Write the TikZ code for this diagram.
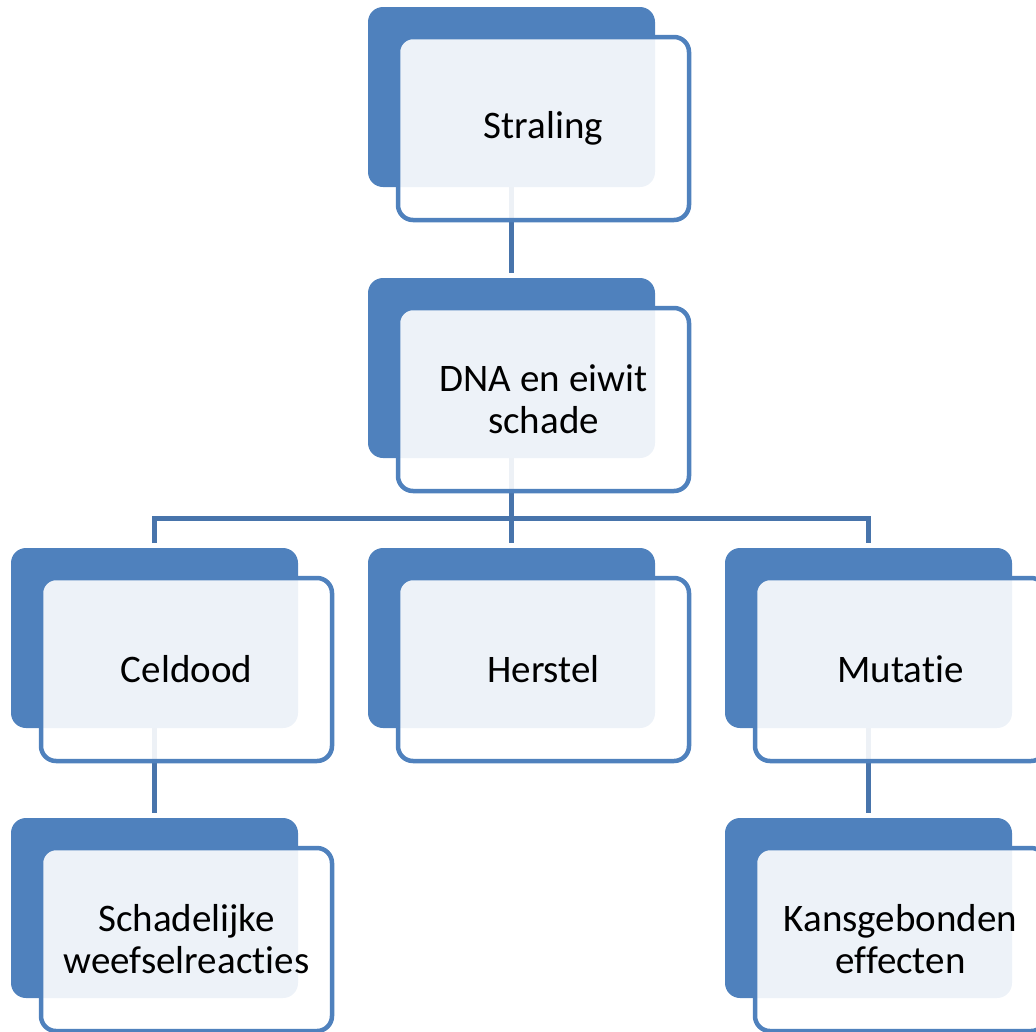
\documentclass[tikz,border=0pt]{standalone}
\usepackage{fontspec}
\setmainfont[Ligatures=NoCommon]{Carlito}
\usetikzlibrary{backgrounds}
\definecolor{accent}{RGB}{79,129,189}
\definecolor{connc}{RGB}{72,116,171}
\tikzset{
  backbox/.style={rectangle, rounded corners=15pt, fill=accent, draw=none,
    minimum width=287pt, minimum height=180pt, inner sep=0pt, outer sep=0pt},
  frontbox/.style={rectangle, rounded corners=15pt, fill=white, fill opacity=0.9,
    text opacity=1, draw=accent, draw opacity=1, line width=4.5pt, minimum width=291pt,
    minimum height=183pt, inner sep=0pt, outer sep=0pt, align=center,
    font=\fontsize{39}{42}\selectfont, text=black},
  conn/.style={draw=connc, line width=5pt}
}
\begin{document}
\begin{tikzpicture}[x=1pt,y=-1pt]
\useasboundingbox (0,0) rectangle (1036,1031);
\clip (0,0) rectangle (1036,1031);
% back boxes
\node[backbox] (strB) at (511.5,97)  {};
\node[backbox] (dnaB) at (511.5,368) {};
\node[backbox] (celB) at (154.5,638) {};
\node[backbox] (herB) at (511.5,638) {};
\node[backbox] (mutB) at (868.5,638) {};
\node[backbox] (schB) at (154.5,908) {};
\node[backbox] (kanB) at (868.5,908) {};
% front boxes
\node[frontbox] (strF) at (543.5,128.5) {Straling};
\node[frontbox] (dnaF) at (543.5,399.5) {DNA en eiwit\\schade};
\node[frontbox] (celF) at (186.5,669.5) {Celdood};
\node[frontbox] (herF) at (543.5,669.5) {Herstel};
\node[frontbox] (mutF) at (900.5,669.5) {Mutatie};
\node[frontbox] (schF) at (186.5,939.5) {Schadelijke\\weefselreacties};
\node[frontbox] (kanF) at (900.5,939.5) {Kansgebonden\\effecten};
\coordinate (hub) at (511.5,518);
% connectors behind all boxes
\begin{pgfonlayer}{background}
\draw[conn, shorten >=5pt] (strB.south) -- (dnaB.north);
\draw[conn, shorten >=5pt] (dnaB.south) -- (herB.north);
\draw[conn, shorten <=5pt, shorten >=5pt] (celB.north) |- (hub) -| (mutB.north);
\draw[conn, shorten >=5pt] (celB.south) -- (schB.north);
\draw[conn, shorten >=5pt] (mutB.south) -- (kanB.north);
\end{pgfonlayer}
\end{tikzpicture}
\end{document}
